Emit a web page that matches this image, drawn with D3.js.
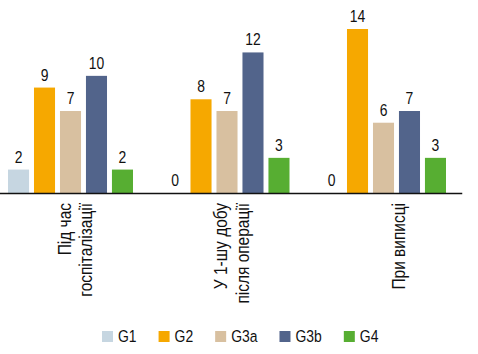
<!DOCTYPE html>
<html>
<head>
<meta charset="utf-8">
<script src="https://cdn.jsdelivr.net/npm/d3@7"></script>
<style>
    body { margin: 0; background: #fff; }
    svg text { font-family: "Liberation Sans", Arial, sans-serif; fill: #111; font-size: 17px; }
</style>
</head>
<body>
<div class="chart"></div>
<script>
// categories (line breaks as in the original labels)
const categories = ['Під час\nгоспіталізації', 'У 1-шу добу\nпісля операції', 'При виписці'];
const seriesNames = ['G1', 'G2', 'G3a', 'G3b', 'G4'];
const seriesColors = ['#c6d6e1', '#f6a800', '#d8c0a0', '#52648b', '#57ae32'];

// values per group
const g1 = [2, 0, 0];
const g2 = [9, 8, 14];
const g3a = [7, 7, 6];
const g3b = [10, 12, 7];
const g4 = [2, 3, 3];

const width = 478, height = 354;
const baseline = 193;
const narrow = 0.82; // squeeze Liberation Sans to look like a narrow face

let seriesValues = [g1, g2, g3a, g3b, g4];

let svg = d3.select('.chart').append('svg')
    .attr('width', width)
    .attr('height', height);

// scales
let x0 = d3.scaleBand()
    .domain(categories)
    .range([-7.75, 461.75])
    .padding(0);

let x1 = d3.scaleBand()
    .domain(seriesNames)
    .range([0, 125])
    .paddingInner(0.19)
    .paddingOuter(0);

let groupOffset = (x0.bandwidth() - 125) / 2;

let y = d3.scaleLinear()
    .domain([0, 14])
    .range([baseline, 29]);

// bars, one group per category
let groups = svg.selectAll('.group')
    .data(categories)
    .enter().append('g')
    .attr('class', 'group')
    .attr('transform', d => 'translate(' + (x0(d) + groupOffset) + ',0)');

groups.selectAll('rect')
    .data((c, i) => seriesNames.map((s, j) => ({s: s, v: seriesValues[j][i], color: seriesColors[j]})))
    .enter().append('rect')
    .attr('x', d => x1(d.s))
    .attr('y', d => y(d.v))
    .attr('width', x1.bandwidth())
    .attr('height', d => baseline - y(d.v))
    .style('fill', d => d.color);

// value labels
groups.selectAll('.val')
    .data((c, i) => seriesNames.map((s, j) => ({s: s, v: seriesValues[j][i]})))
    .enter().append('text')
    .attr('class', 'val')
    .attr('transform', d => 'translate(' + (x1(d.s) + x1.bandwidth() / 2) + ',' + (y(d.v) - 7) + ') scale(' + narrow + ',1)')
    .attr('text-anchor', 'middle')
    .text(d => d.v);

// x axis
let xAxis = d3.axisBottom(x0).tickSize(0).tickSizeOuter(0);
let axisG = svg.append('g')
    .attr('transform', 'translate(0,' + baseline + ')')
    .call(xAxis);

axisG.select('.domain').attr('stroke', '#111').attr('stroke-width', 1.5);
axisG.selectAll('.tick text').remove();

// rotated category labels, last line sits a bit right of the group centre
let catScale = 0.86;
axisG.selectAll('.tick').append('text')
    .attr('transform', 'rotate(-90) scale(' + catScale + ',1)')
    .attr('text-anchor', 'end')
    .style('font-size', '18px')
    .each(function(d) {
        let lines = d.split('\n');
        let t = d3.select(this);
        lines.forEach((line, k) => {
            t.append('tspan')
                .attr('x', -10 / catScale)
                .attr('y', 22 - (lines.length - 1 - k) * 22)
                .text(line);
        });
    });

// legend
let legend = svg.append('g').attr('class', 'legend');
let lx = 102;
seriesNames.forEach((s, j) => {
    legend.append('rect')
        .attr('x', lx)
        .attr('y', 331)
        .attr('width', 11)
        .attr('height', 11)
        .style('fill', seriesColors[j]);
    let t = legend.append('text')
        .attr('transform', 'translate(' + (lx + 16) + ',342) scale(' + narrow + ',1)')
        .text(s);
    lx += 16 + t.node().getComputedTextLength() * narrow + 22;
});
</script>
</body>
</html>
